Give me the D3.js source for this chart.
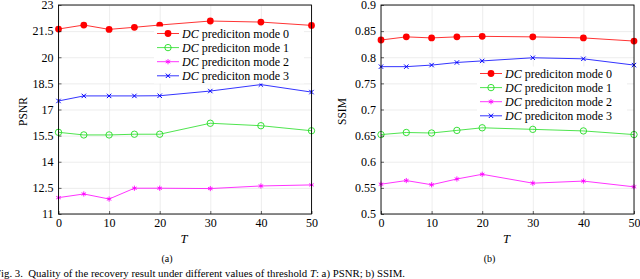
<!DOCTYPE html>
<html>
<head>
<meta charset="utf-8">
<script src="https://cdn.jsdelivr.net/npm/d3@7"></script>
<style>
  body { margin: 0; background: #fff; }
  svg { display: block; font-family: "Liberation Serif", "Times New Roman", serif; }
  .grid line { stroke: #e0e0e0; stroke-width: 0.6; }
  .grid path { display: none; }
  .axis text { font-size: 12px; fill: #000; font-family: "Liberation Serif", serif; }
</style>
</head>
<body>
<div id="chart"></div>
<script>
// ** data
const thresholds = [0, 5, 10, 15, 20, 30, 40, 50];
const seriesNames = ['prediciton mode 0', 'prediciton mode 1', 'prediciton mode 2', 'prediciton mode 3'];

const psnrMode0 = [21.62, 21.85, 21.60, 21.72, 21.85, 22.08, 22.02, 21.83];
const psnrMode1 = [15.69, 15.54, 15.54, 15.58, 15.58, 16.21, 16.07, 15.78];
const psnrMode2 = [11.94, 12.15, 11.86, 12.48, 12.48, 12.46, 12.61, 12.67];
const psnrMode3 = [17.49, 17.78, 17.78, 17.78, 17.79, 18.06, 18.43, 18.00];

const ssimMode0 = [0.833, 0.839, 0.837, 0.839, 0.840, 0.839, 0.837, 0.831];
const ssimMode1 = [0.652, 0.656, 0.655, 0.660, 0.665, 0.662, 0.659, 0.652];
const ssimMode2 = [0.557, 0.564, 0.556, 0.567, 0.576, 0.559, 0.563, 0.552];
const ssimMode3 = [0.782, 0.782, 0.785, 0.790, 0.793, 0.799, 0.797, 0.785];

const xTicks = [0, 10, 20, 30, 40, 50];
const psnrTicks = [11, 12.5, 14, 15.5, 17, 18.5, 20, 21.5, 23];
const ssimTicks = [0.5, 0.55, 0.6, 0.65, 0.7, 0.75, 0.8, 0.85, 0.9];

const colors = ['#ff0000', '#22dd22', '#ff00ff', '#0000ff'];
const markers = ['dot', 'circle', 'star', 'x'];

const W = 640, H = 279;
const svg = d3.select('#chart').append('svg').attr('width', W).attr('height', H);

function drawMarker(g, type, color) {
  if (type === 'dot') {
    g.append('circle').attr('r', 3.4).attr('fill', color);
  } else if (type === 'circle') {
    g.append('circle').attr('r', 3.2).attr('fill', 'none').attr('stroke', color).attr('stroke-width', 0.9);
  } else if (type === 'star') {
    const r = 2.6;
    [0, 60, 120].forEach(a => {
      const rad = a * Math.PI / 180;
      g.append('line')
        .attr('x1', -r * Math.sin(rad)).attr('y1', -r * Math.cos(rad))
        .attr('x2', r * Math.sin(rad)).attr('y2', r * Math.cos(rad))
        .attr('stroke', color).attr('stroke-width', 0.9);
    });
  } else if (type === 'x') {
    const r = 2.2;
    g.append('path').attr('d', `M${-r},${-r}L${r},${r}M${-r},${r}L${r},${-r}`)
      .attr('stroke', color).attr('stroke-width', 1);
  }
}

function drawPanel(ss) {
  const x = d3.scaleLinear().domain([0, 50]).range([ss.left, ss.right]);
  const y = d3.scaleLinear().domain(ss.yDomain).range([ss.bottom, ss.top]);
  const g = svg.append('g');

  //** grid
  g.append('g').attr('class', 'grid')
    .attr('transform', 'translate(0,' + ss.bottom + ')')
    .call(d3.axisBottom(x).tickValues(xTicks).tickSize(-(ss.bottom - ss.top)).tickFormat(''));
  g.append('g').attr('class', 'grid')
    .attr('transform', 'translate(' + ss.left + ',0)')
    .call(d3.axisLeft(y).tickValues(ss.yTicks).tickSize(-(ss.right - ss.left)).tickFormat(''));

  //** lines
  ss.series.forEach((vals, i) => {
    const line = d3.line().x((d, j) => x(thresholds[j])).y(d => y(d));
    g.append('path').datum(vals)
      .attr('d', line).attr('fill', 'none')
      .attr('stroke', colors[i]).attr('stroke-width', 0.8);
    vals.forEach((v, j) => {
      const m = g.append('g').attr('transform', 'translate(' + x(thresholds[j]) + ',' + y(v) + ')');
      drawMarker(m, markers[i], colors[i]);
    });
  });

  //** axes
  const xAxis = d3.axisBottom(x).tickValues(xTicks).tickSizeInner(-3).tickSizeOuter(0).tickPadding(4);
  g.append('g').attr('class', 'axis')
    .attr('transform', 'translate(0,' + ss.bottom + ')')
    .call(xAxis)
    .attr('font-family', null)
    .call(a => a.select('.domain').remove());
  const yAxis = d3.axisLeft(y).tickValues(ss.yTicks).tickFormat(d => d).tickSizeInner(-3).tickSizeOuter(0).tickPadding(5);
  g.append('g').attr('class', 'axis')
    .attr('transform', 'translate(' + ss.left + ',0)')
    .call(yAxis)
    .attr('font-family', null)
    .call(a => a.select('.domain').remove());
  g.selectAll('.axis .tick line').attr('stroke', '#000').attr('stroke-width', 0.6);

  //** frame
  g.append('rect')
    .attr('x', ss.left).attr('y', ss.top)
    .attr('width', ss.right - ss.left).attr('height', ss.bottom - ss.top)
    .attr('fill', 'none').attr('stroke', '#000').attr('stroke-width', 0.9);

  //** labels
  g.append('text')
    .attr('transform', 'translate(' + ss.yLabelX + ',' + ((ss.top + ss.bottom) / 2 + 2) + ') rotate(-90)')
    .attr('text-anchor', 'middle').attr('font-size', 11.5).text(ss.yLabel);
  g.append('text')
    .attr('x', (ss.left + ss.right) / 2 - 1).attr('y', 243)
    .attr('text-anchor', 'middle').attr('font-size', 12.5).attr('font-style', 'italic').text('T');
  g.append('text')
    .attr('x', (ss.left + ss.right) / 2 - 18).attr('y', 262)
    .attr('text-anchor', 'middle').attr('font-size', 10).text(ss.sub);

  //** legenda
  const lg = g.append('g').attr('transform', 'translate(' + ss.legX + ',' + ss.legY + ')');
  lg.append('rect').attr('x', -3).attr('y', -7).attr('width', 150).attr('height', 57).attr('fill', '#fff');
  seriesNames.forEach((name, i) => {
    const item = lg.append('g').attr('transform', 'translate(0,' + (i * 14.1) + ')');
    item.append('line').attr('x1', 0).attr('x2', 22).attr('y1', 0).attr('y2', 0)
      .attr('stroke', colors[i]).attr('stroke-width', 0.8);
    const m = item.append('g').attr('transform', 'translate(11,0)');
    drawMarker(m, markers[i], colors[i]);
    const t = item.append('text').attr('x', 25).attr('y', 4).attr('font-size', 12);
    t.append('tspan').attr('font-style', 'italic').text('DC');
    t.append('tspan').text(' ' + name);
  });
}

drawPanel({
  left: 58.5, right: 311.5, top: 5, bottom: 214,
  yDomain: [11, 23], yTicks: psnrTicks, yLabel: 'PSNR', yLabelX: 27,
  series: [psnrMode0, psnrMode1, psnrMode2, psnrMode3],
  sub: '(a)', legX: 157, legY: 33.5
});

drawPanel({
  left: 381, right: 634, top: 5, bottom: 214,
  yDomain: [0.5, 0.9], yTicks: ssimTicks, yLabel: 'SSIM', yLabelX: 346,
  series: [ssimMode0, ssimMode1, ssimMode2, ssimMode3],
  sub: '(b)', legX: 480, legY: 73.5
});

//** caption
svg.append('text')
  .attr('x', -5).attr('y', 277)
  .attr('font-size', 10.5)
  .attr('textLength', 410).attr('lengthAdjust', 'spacingAndGlyphs')
  .html('Fig. 3.&#160;&#160;Quality of the recovery result under different values of threshold <tspan font-style="italic">T</tspan>: a) PSNR; b) SSIM.');
</script>
</body>
</html>
